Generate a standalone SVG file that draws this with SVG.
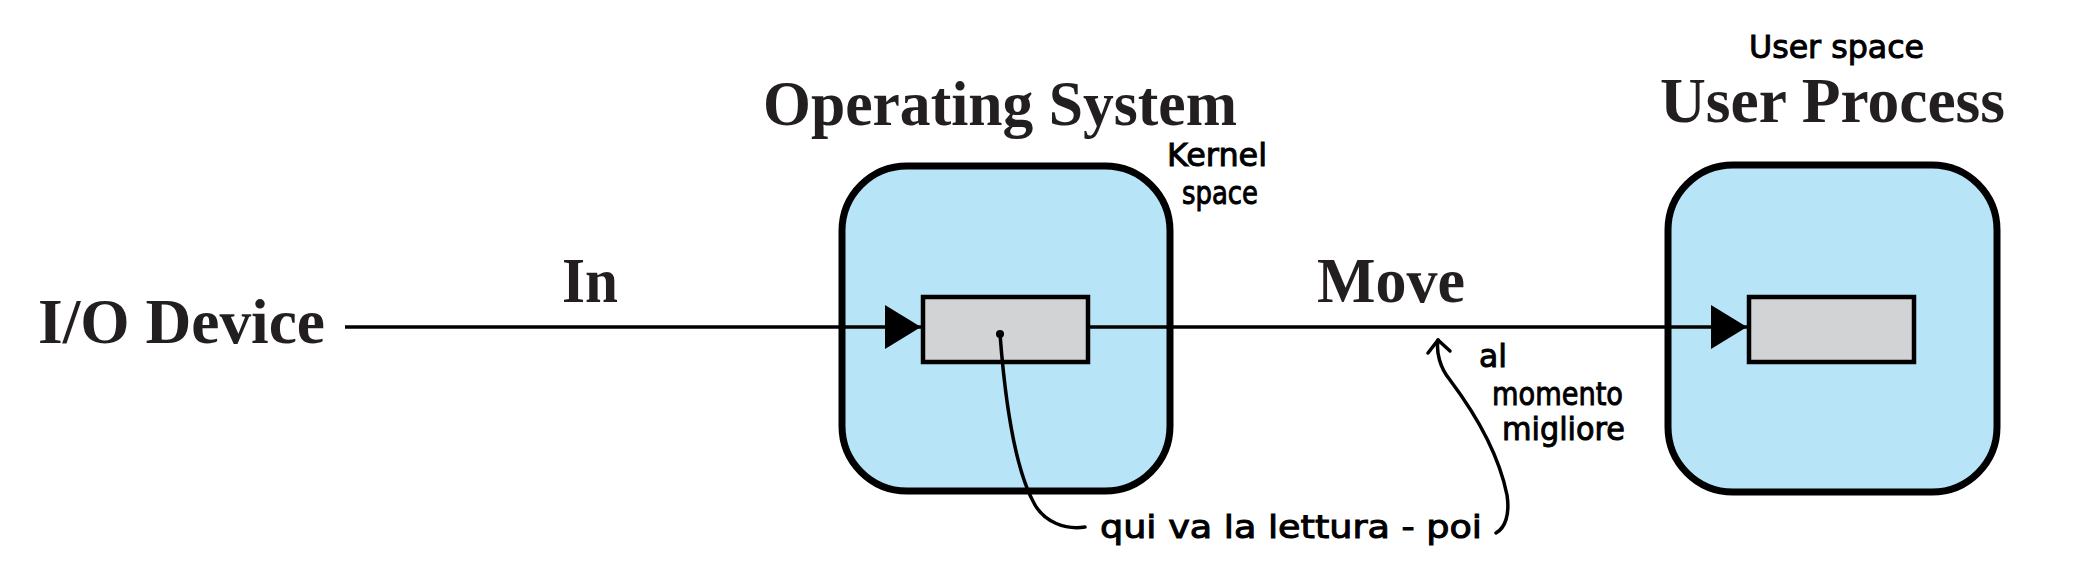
<svg xmlns="http://www.w3.org/2000/svg" width="2097" height="581" viewBox="0 0 2097 581">
  <style>
    .title { font-family: "Liberation Serif", "Times New Roman", serif; font-weight: bold; font-size: 63px; fill: #231f20; }
    .hand { font-family: "DejaVu Sans", "Liberation Sans", sans-serif; font-size: 32px; fill: #000; stroke: #000; stroke-width: 1; }
    .outer { fill: #b8e4f8; stroke: #000; stroke-width: 7; }
    .inner { fill: #d1d3d4; stroke: #000; stroke-width: 4.5; }
    .conn { fill: none; stroke: #000; stroke-width: 3.5; }
    .ink { fill: none; stroke: #000; stroke-width: 3.5; stroke-linecap: round; stroke-linejoin: round; }
  </style>
  <defs>
    <marker id="tri" markerUnits="userSpaceOnUse" markerWidth="38" markerHeight="46" refX="36" refY="22" orient="auto">
      <path d="M0,0 L36,22 L0,44 z" fill="#000"/>
    </marker>
  </defs>
  <rect width="2097" height="581" fill="#fff"/>

  <g id="io-device">
    <text class="title" x="38" y="343" textLength="287" lengthAdjust="spacingAndGlyphs">I/O Device</text>
  </g>

  <g id="operating-system">
    <text class="title" x="763" y="125" textLength="474" lengthAdjust="spacingAndGlyphs">Operating System</text>
    <rect class="outer" x="842" y="166" width="328" height="325" rx="65" ry="65"/>
    <rect class="inner" x="923" y="297" width="165" height="65"/>
  </g>

  <g id="user-process">
    <text class="title" x="1660" y="122" textLength="345" lengthAdjust="spacingAndGlyphs">User Process</text>
    <rect class="outer" x="1668" y="165" width="329" height="327" rx="65" ry="65"/>
    <rect class="inner" x="1749" y="297" width="165" height="65"/>
  </g>

  <g id="connectors">
    <line class="conn" x1="345" y1="327" x2="921" y2="327" marker-end="url(#tri)"/>
    <text class="title" x="562" y="302" textLength="56" lengthAdjust="spacingAndGlyphs">In</text>
    <line class="conn" x1="1090" y1="327" x2="1747" y2="327" marker-end="url(#tri)"/>
    <text class="title" x="1317" y="302" textLength="148" lengthAdjust="spacingAndGlyphs">Move</text>
  </g>

  <g id="annotations">
    <text class="hand" x="1167" y="166" textLength="100" lengthAdjust="spacingAndGlyphs">Kernel</text>
    <text class="hand" x="1182" y="204" font-size="30" textLength="76" lengthAdjust="spacingAndGlyphs">space</text>
    <text class="hand" x="1749" y="58" font-size="28" textLength="175" lengthAdjust="spacingAndGlyphs">User space</text>
    <circle cx="1000" cy="334" r="4" fill="#000"/>
    <path class="ink" d="M1000,334 C1005,400 1015,470 1035,505 C1045,522 1065,530 1085,527"/>
    <path class="ink" d="M1438,340 C1436,352 1440,368 1450,380 C1480,420 1500,460 1507,495 C1510,515 1505,528 1496,533"/>
    <path class="ink" d="M1428,353 L1438,340 L1450,351"/>
    <text class="hand" x="1479" y="367" textLength="28" lengthAdjust="spacingAndGlyphs">al</text>
    <text class="hand" x="1492" y="405" font-size="30" textLength="131" lengthAdjust="spacingAndGlyphs">momento</text>
    <text class="hand" x="1502" y="440" font-size="30" textLength="123" lengthAdjust="spacingAndGlyphs">migliore</text>
    <text class="hand" x="1100" y="538" font-size="34" textLength="382" lengthAdjust="spacingAndGlyphs">qui va la lettura - poi</text>
  </g>
</svg>
